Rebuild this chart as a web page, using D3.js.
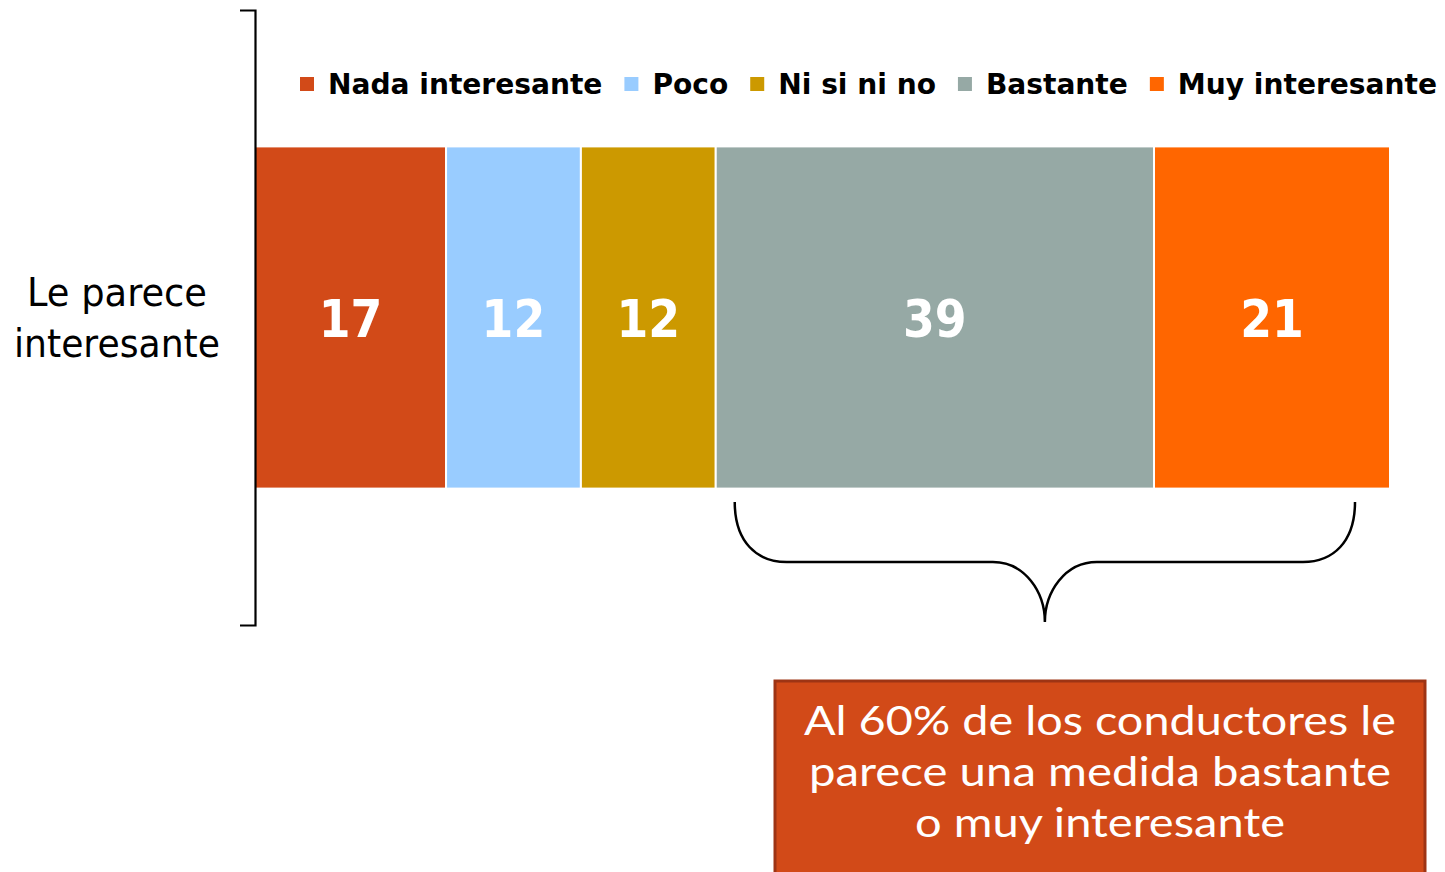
<!DOCTYPE html>
<html>
<head>
<meta charset="utf-8">
<script src="https://cdn.jsdelivr.net/npm/d3@7"></script>
<style>
  html, body { margin: 0; padding: 0; background: #ffffff; }
  svg { display: block; }
</style>
</head>
<body>
<svg id="chart" width="1445" height="872"></svg>
<script>
// ---- data ----
const categories = ["Le parece interesante"];
const categoryLines = ["Le parece", "interesante"];
const seriesNames = ["Nada interesante", "Poco", "Ni si ni no", "Bastante", "Muy interesante"];
const seriesValues = [17, 12, 12, 39, 21];
const seriesColors = ["#d24a18", "#99ccff", "#cc9900", "#96a9a5", "#ff6600"];
const calloutLines = ["Al 60% de los conductores le", "parece una medida bastante", "o muy interesante"];

// ---- layout ----
const W = 1445, H = 872;
const svg = d3.select("#chart");
const total = d3.sum(seriesValues);

const x = d3.scaleLinear().domain([0, total]).range([255, 1390]);
const y = d3.scaleBand().domain(categories).range([10, 625]).paddingInner(0.285).paddingOuter(0.285);

// stacked segments
let acc = 0;
const segs = seriesValues.map((v, i) => {
  const s = { name: seriesNames[i], value: v, x0: acc, x1: acc + v, color: seriesColors[i] };
  acc += v;
  return s;
});

const cat = categories[0];
svg.append("g").selectAll("rect").data(segs).join("rect")
  .attr("x", d => x(d.x0))
  .attr("y", y(cat))
  .attr("width", d => x(d.x1) - x(d.x0))
  .attr("height", y.bandwidth())
  .attr("fill", d => d.color)
  .attr("stroke", "#ffffff")
  .attr("stroke-width", 2);

// value labels
const vl = svg.append("g").selectAll("text").data(segs).join("text")
  .attr("x", d => x((d.x0 + d.x1) / 2))
  .attr("y", y(cat) + y.bandwidth() / 2 + 19)
  .attr("text-anchor", "middle")
  .attr("fill", "#ffffff")
  .style("font-family", "'DejaVu Sans', Verdana, sans-serif")
  .style("font-weight", "bold")
  .style("font-size", "52px")
  .text(d => d.value);
vl.each(function() {
  const w = this.getComputedTextLength();
  d3.select(this).attr("textLength", w * 0.88).attr("lengthAdjust", "spacingAndGlyphs");
});

// axis (left, with outer ticks)
const axis = d3.axisLeft(y).tickSizeInner(0).tickSizeOuter(15).tickFormat("");
const ag = svg.append("g").attr("transform", `translate(${x(0)},0)`).call(axis);
ag.select(".domain").attr("stroke", "#000").attr("stroke-width", 2.2).attr("fill", "none");
ag.selectAll(".tick").remove();

// category label
const cl = svg.append("text")
  .attr("text-anchor", "middle")
  .attr("fill", "#000")
  .style("font-family", "'DejaVu Sans', Tahoma, sans-serif")
  .style("font-size", "39px");
categoryLines.forEach((t, i) => {
  cl.append("tspan").attr("x", 117).attr("y", 306 + i * 51).text(t);
});
cl.selectAll("tspan").each(function(d, i) {
  const target = i === 0 ? 180 : 206;
  d3.select(this).attr("textLength", target).attr("lengthAdjust", "spacingAndGlyphs");
});

// legend
const lg = svg.append("g");
const legendLeft = 300, legendRight = 1437, sq = 14, sqGap = 14, itemGap = 22, legendY = 84;
const items = lg.selectAll("g").data(segs).join("g");
items.append("rect").attr("width", sq).attr("height", sq).attr("y", legendY - 7).attr("fill", d => d.color);
const lt = items.append("text")
  .attr("y", legendY + 10)
  .attr("fill", "#000")
  .style("font-family", "'DejaVu Sans', Tahoma, sans-serif")
  .style("font-weight", "bold")
  .style("font-size", "29px")
  .text(d => d.name);
const widths = [];
lt.each(function() { widths.push(this.getComputedTextLength()); });
const fixed = segs.length * (sq + sqGap) + (segs.length - 1) * itemGap;
const k = (legendRight - legendLeft - fixed) / d3.sum(widths);
let cx = legendLeft;
items.each(function(d, i) {
  const g = d3.select(this);
  g.select("rect").attr("x", cx);
  g.select("text").attr("x", cx + sq + sqGap).attr("textLength", widths[i] * k).attr("lengthAdjust", "spacingAndGlyphs");
  cx += sq + sqGap + widths[i] * k + itemGap;
});

// brace under Bastante + Muy interesante
const bL = x(seriesValues[0] + seriesValues[1] + seriesValues[2]) + 19;
const bR = x(total) - 35;
const bC = (bL + bR) / 2;
const yTop = 502, yMid = 562, yTip = 622;
const bp = d3.path();
bp.moveTo(bL, yTop);
bp.bezierCurveTo(bL, yTop + 40, bL + 22, yMid, bL + 52, yMid);
bp.lineTo(bC - 52, yMid);
bp.bezierCurveTo(bC - 20, yMid, bC, yMid + 30, bC, yTip);
bp.bezierCurveTo(bC, yMid + 30, bC + 20, yMid, bC + 52, yMid);
bp.lineTo(bR - 52, yMid);
bp.bezierCurveTo(bR - 22, yMid, bR, yTop + 40, bR, yTop);
svg.append("path").attr("d", bp.toString()).attr("fill", "none").attr("stroke", "#000").attr("stroke-width", 2.5);

// callout box
svg.append("rect")
  .attr("x", 775).attr("y", 681).attr("width", 650).attr("height", 220)
  .attr("fill", "#d24a18").attr("stroke", "#9e3414").attr("stroke-width", 3);
const ct = svg.append("text")
  .attr("text-anchor", "middle")
  .attr("fill", "#ffffff")
  .style("font-family", "Lato, 'Open Sans', sans-serif")
  .style("font-size", "41px");
calloutLines.forEach((t, i) => {
  ct.append("tspan").attr("x", 1100).attr("y", 735 + i * 51).text(t);
});
const targets = [592, 582, 370];
ct.selectAll("tspan").each(function(d, i) {
  d3.select(this).attr("textLength", targets[i]).attr("lengthAdjust", "spacingAndGlyphs");
});
</script>
</body>
</html>
